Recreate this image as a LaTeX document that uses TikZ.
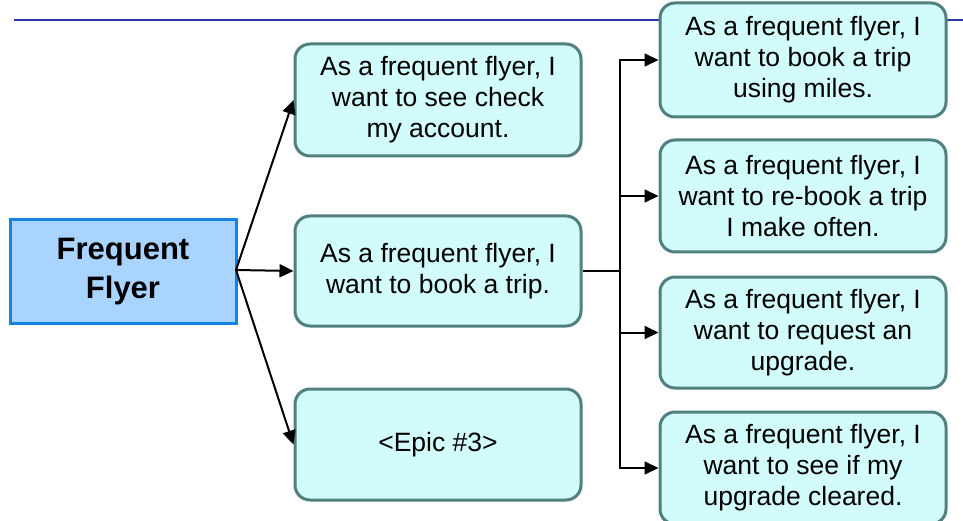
\documentclass[tikz,border=0pt]{standalone}
\usepackage{fontspec}
\setmainfont{Liberation Sans}
\usetikzlibrary{arrows.meta}
\definecolor{storyfill}{HTML}{D2FCFC}
\definecolor{storyline}{HTML}{4F7F7F}
\definecolor{rolefill}{HTML}{A8D4FF}
\definecolor{roleline}{HTML}{1484E4}
\definecolor{ruleblue}{HTML}{2838A8}
\tikzset{
  story/.style={draw=storyline, line width=3pt, fill=storyfill, rounded corners=15pt,
    minimum width=286pt, align=center, font=\fontsize{26.5}{31}\selectfont, inner sep=0pt},
  role/.style={draw=roleline, line width=3pt, fill=rolefill, minimum width=226pt, minimum height=103pt,
    align=center, font=\fontsize{31}{39}\selectfont\bfseries, inner sep=0pt},
  conn/.style={line width=2pt, -{Triangle[length=14pt,width=13pt]}},
  plain/.style={line width=2pt}
}
\begin{document}
\begin{tikzpicture}[x=1pt,y=-1pt]
\useasboundingbox (0,0) rectangle (963,521);
\draw[ruleblue, line width=2.5pt] (14,20) -- (963,20);
\node[role] (ff) at (123,271.5) {Frequent\\Flyer};
\node[story, minimum height=112pt] (a) at (438,100) {As a frequent flyer, I\\want to see check\\my account.};
\node[story, minimum height=110pt] (b) at (438,271) {As a frequent flyer, I\\want to book a trip.};
\node[story, minimum height=111pt] (c) at (438,444.5) {<Epic \#3>};
\node[story, minimum height=114pt] (r1) at (803,60) {As a frequent flyer, I\\want to book a trip\\using miles.};
\node[story, minimum height=112pt] (r2) at (803,196) {As a frequent flyer, I\\want to re-book a trip\\I make often.};
\node[story, minimum height=111pt] (r3) at (803,332.5) {As a frequent flyer, I\\want to request an\\upgrade.};
\node[story, minimum height=112pt] (r4) at (803,468) {As a frequent flyer, I\\want to see if my\\upgrade cleared.};
\coordinate (hub) at (236,270);
\coordinate (j) at (620,271);
\draw[conn] (hub) -- (a.west);
\draw[conn] (hub) -- (b.west);
\draw[conn] (hub) -- (c.west);
\draw[plain] (b.east) -- (j);
\draw[conn] (j) |- (r1.west);
\draw[conn] (j) |- (r2.west);
\draw[conn] (j) |- (r3.west);
\draw[conn] (j) |- (r4.west);
\end{tikzpicture}
\end{document}
